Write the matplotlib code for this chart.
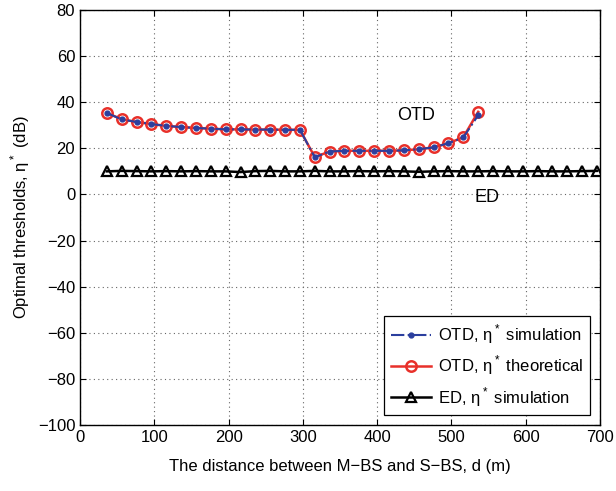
import matplotlib
matplotlib.use('Agg')
import matplotlib.pyplot as plt
import numpy as np

plt.rcParams['font.family'] = ['Liberation Sans', 'DejaVu Sans']
plt.rcParams['mathtext.fontset'] = 'custom'
plt.rcParams['mathtext.rm'] = 'Liberation Sans'

# distances (m)
d_otd = [36, 56, 76, 96, 116, 136, 156, 176, 196, 216, 236, 256, 276, 296,
         316, 336, 356, 376, 396, 416, 436, 456, 476, 496, 516, 536]
otd_sim = [35.3, 32.5, 31.4, 30.5, 29.7, 29.2, 28.8, 28.5, 28.2, 28.2, 28.1, 28.1, 28.0, 28.0,
           16.1, 18.6, 18.9, 18.9, 18.9, 18.9, 19.1, 19.6, 20.4, 22.2, 24.7, 34.3]
otd_theory = [35.3, 32.6, 31.4, 30.5, 29.7, 29.2, 28.8, 28.5, 28.2, 28.2, 28.1, 28.1, 28.0, 28.0,
              16.2, 18.6, 18.9, 18.9, 18.9, 18.9, 19.1, 19.6, 20.4, 22.2, 24.8, 35.8]

d_ed = [36, 56, 76, 96, 116, 136, 156, 176, 196, 216, 236, 256, 276, 296, 316, 336, 356,
        376, 396, 416, 436, 456, 476, 496, 516, 536, 556, 576, 596, 616, 636, 656, 676, 696]
ed_sim = [10.0, 10.2, 10.1, 10.0, 10.1, 10.0, 10.1, 10.0, 10.0, 9.7, 10.1, 10.2, 10.0, 10.0,
          10.2, 10.0, 10.0, 10.1, 10.0, 10.1, 10.0, 9.8, 10.0, 10.1, 10.0, 10.0, 10.1, 10.0,
          10.0, 10.1, 10.0, 10.0, 10.1, 10.2]

fig = plt.figure(figsize=(6.16, 4.91), dpi=100)
ax = fig.add_axes([0.13, 0.134, 0.844, 0.846])

ax.plot(d_otd, otd_sim, '-.', color='#2b3f9e', marker='.', markersize=7, linewidth=1.5,
        label=r'OTD, η$^*$ simulation', zorder=4)
ax.plot(d_otd, otd_theory, '-', color='#e8302a', marker='o', markersize=7.5,
        markerfacecolor='none', markeredgewidth=1.8, linewidth=1.8,
        label=r'OTD, η$^*$ theoretical', zorder=3)
ax.plot(d_ed, ed_sim, '-', color='black', marker='^', markersize=7,
        markerfacecolor='none', markeredgewidth=1.6, linewidth=1.8,
        label=r'ED, η$^*$ simulation', zorder=3)

ax.text(453, 34.3, 'OTD', fontsize=13, ha='center', va='center')
ax.text(548, -1.2, 'ED', fontsize=13, ha='center', va='center')

ax.set_xlim(0, 700)
ax.set_ylim(-100, 80)
ax.set_xticks(np.arange(0, 701, 100))
ax.set_yticks(np.arange(-100, 81, 20))
ax.grid(True, linestyle=(0, (1, 3)), color='#666666', linewidth=0.8)
ax.tick_params(direction='in', top=True, right=True, labelsize=12, length=4)
for s in ax.spines.values():
    s.set_linewidth(1.0)

ax.set_xlabel('The distance between M\u2212BS and S\u2212BS, d (m)', fontsize=12, labelpad=10)
ax.set_ylabel(r'Optimal thresholds, η$^*$ (dB)', fontsize=12, labelpad=4)

leg = ax.legend(loc='lower right', fontsize=12, fancybox=False, edgecolor='black',
                framealpha=1, handlelength=2.4, handletextpad=0.4, borderaxespad=0.6,
                labelspacing=0.45, borderpad=0.4)
leg.get_frame().set_linewidth(0.9)

plt.savefig('out.png', dpi=100)
